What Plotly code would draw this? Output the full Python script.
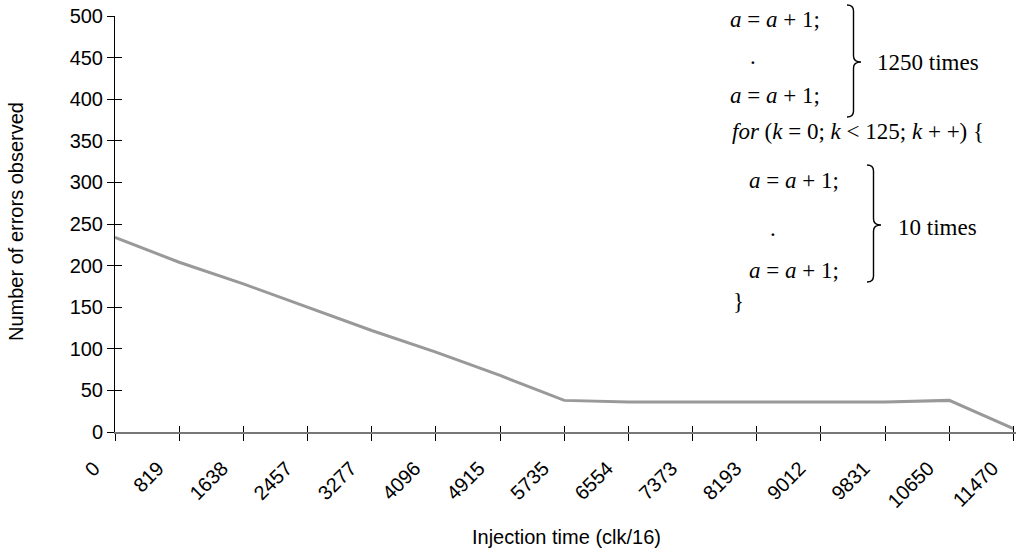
import plotly.graph_objects as go

# ---- data ----
categories = ["0", "819", "1638", "2457", "3277", "4096", "4915", "5735",
              "6554", "7373", "8193", "9012", "9831", "10650", "11470"]
errors = [234, 204, 178, 150, 122, 96, 68, 38, 36, 36, 36, 36, 36, 38, 4]
y_ticks = [0, 50, 100, 150, 200, 250, 300, 350, 400, 450, 500]

x_title = "Injection time (clk/16)"
y_title = "Number of errors observed"

# ---- geometry (pixels) ----
W_FIG, H_FIG = 1017, 556
L, R, T, B = 115, 1016, 16, 432
PW, PH = R - L, B - T
idx = list(range(len(categories)))
x_range = [0, 14.04]


def px(x):
    return (x - L) / PW


def py(y):
    return (B - y) / PH


SANS = "Liberation Sans, Arial, sans-serif"
SERIF = "Liberation Serif, Times New Roman, serif"
SANS_SIZE = 20
SERIF_SIZE = 23

fig = go.Figure()
fig.add_trace(go.Scatter(
    x=idx, y=errors, mode="lines",
    line=dict(color="#999999", width=3),
    hoverinfo="skip", showlegend=False,
))
# invisible twin trace to host overlay axes (crossing tick marks)
fig.add_trace(go.Scatter(
    x=idx, y=errors, mode="lines", xaxis="x2", yaxis="y2",
    line=dict(color="rgba(0,0,0,0)", width=0),
    hoverinfo="skip", showlegend=False,
))

fig.update_layout(
    width=W_FIG, height=H_FIG,
    margin=dict(l=L, r=W_FIG - R, t=T, b=H_FIG - B, pad=0, autoexpand=False),
    paper_bgcolor="white", plot_bgcolor="white",
    showlegend=False,
    font=dict(family=SANS, size=SANS_SIZE, color="#000000"),
    xaxis=dict(
        range=x_range, tickmode="array", tickvals=idx, ticktext=categories,
        tickangle=-45, ticks="outside", ticklen=7, tickwidth=1, tickcolor="#000",
        showline=True, linecolor="#777777", linewidth=1.5,
        showgrid=False, zeroline=False, automargin=False,
        tickfont=dict(family=SANS, size=SANS_SIZE, color="#000"),
        ticklabelstandoff=8, ticklabelshift=-21,
    ),
    yaxis=dict(
        range=[0, 500], tickmode="array", tickvals=y_ticks,
        ticks="outside", ticklen=7, tickwidth=1, tickcolor="#000",
        showline=True, linecolor="#000", linewidth=1,
        showgrid=False, zeroline=False, automargin=False,
        tickfont=dict(family=SANS, size=SANS_SIZE, color="#000"),
        ticklabelstandoff=0,
    ),
    xaxis2=dict(
        range=x_range, overlaying="x", anchor="y2", side="bottom",
        tickmode="array", tickvals=idx, ticks="inside", ticklen=6,
        tickwidth=1, tickcolor="#000", showticklabels=False, automargin=False,
        showline=False, showgrid=False, zeroline=False,
    ),
    yaxis2=dict(
        range=[0, 500], overlaying="y", anchor="x2", side="left",
        tickmode="array", tickvals=y_ticks, ticks="inside", ticklen=7,
        tickwidth=1, tickcolor="#000", showticklabels=False, automargin=False,
        showline=False, showgrid=False, zeroline=False,
    ),
)

ann = []
# axis titles
ann.append(dict(text=x_title, x=px(566), y=py(537), xref="paper", yref="paper",
                xanchor="center", yanchor="middle", showarrow=False,
                font=dict(family=SANS, size=SANS_SIZE, color="#000")))
ann.append(dict(text=y_title, x=px(16), y=py(222), xref="paper", yref="paper",
                xanchor="center", yanchor="middle", showarrow=False, textangle=-90,
                font=dict(family=SANS, size=SANS_SIZE, color="#000")))

# code listing annotation
a_line = "<i>a</i> = <i>a</i> + 1;"
code_lines = [
    (a_line, 728, 20),
    (".", 748, 56),
    (a_line, 728, 95),
    ("<i>for</i> (<i>k</i> = 0; <i>k</i> < 125; <i>k</i> + +) {", 730, 131),
    (a_line, 747, 180),
    (".", 768, 228),
    (a_line, 747, 270),
    ("}", 731, 301),
    ("1250 times", 875, 62),
    ("10 times", 896, 227),
]
for txt, xx, yy in code_lines:
    ann.append(dict(text=txt, x=px(xx), y=py(yy), xref="paper", yref="paper",
                    xanchor="left", yanchor="middle", showarrow=False,
                    font=dict(family=SERIF, size=SERIF_SIZE, color="#000")))
fig.update_layout(annotations=ann)


def brace(xl, xv, xr, yt, ym, yb, d=6):
    pts = [
        f"M {px(xl)},{py(yt)}",
        f"Q {px(xv)},{py(yt)} {px(xv)},{py(yt + d)}",
        f"L {px(xv)},{py(ym - d)}",
        f"Q {px(xv)},{py(ym)} {px(xr)},{py(ym)}",
        f"Q {px(xv)},{py(ym)} {px(xv)},{py(ym + d)}",
        f"L {px(xv)},{py(yb - d)}",
        f"Q {px(xv)},{py(yb)} {px(xl)},{py(yb)}",
    ]
    return " ".join(pts)


for b in [(847, 853.5, 861, 5, 62, 117), (867, 873.5, 881, 165, 225, 282)]:
    fig.add_shape(type="path", path=brace(*b), xref="paper", yref="paper",
                  line=dict(color="#000", width=1.4))

fig.write_html(
    "out.html",
    config={"displayModeBar": False},
    post_script="document.body.style.margin='0';document.body.style.padding='0';",
)
